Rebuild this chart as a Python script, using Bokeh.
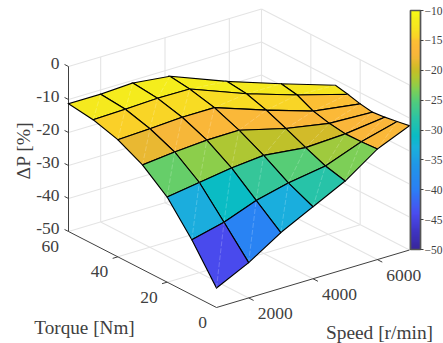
from bokeh.plotting import figure
from bokeh.models import Range1d, ColumnDataSource, ColorBar, LinearColorMapper, FixedTicker
from bokeh.core.properties import value
from bokeh.embed import file_html
from bokeh.resources import INLINE
import numpy as np
import math

# ---- data -----------------------------------------------------------
speed = [1000, 2000, 3000, 4000, 5000, 6000, 7000]
torque_c0 = [0, 10, 20, 30, 40, 50, 60]
torque_c1 = [0, 10, 20, 30, 40, 50, 60]
torque_c2 = [0, 10, 20, 30, 40, 50, 60]
torque_c3 = [0, 10, 20, 30, 40, 50, 58]
torque_c4 = [0, 8, 16, 24, 32, 40, 48]
torque_c5 = [0, 6.5, 13, 19.5, 26, 32.5, 39]
torque_c6 = [0, 5, 10, 15, 20, 25, 30]
dp_c0 = [-44.1, -33.3, -24.2, -18.3, -14.5, -12.3, -11.3]
dp_c1 = [-39.3, -30.9, -22.7, -17.3, -14.1, -12.0, -11.3]
dp_c2 = [-33.1, -27.2, -21.2, -16.6, -13.5, -11.6, -10.8]
dp_c3 = [-28.2, -24.8, -20.3, -16.5, -13.5, -11.7, -10.9]
dp_c4 = [-23.3, -21.8, -19.3, -16.6, -14.1, -12.2, -11.5]
dp_c5 = [-16.5, -16.8, -16.9, -16.2, -15.0, -12.6, -11.7]
dp_c6 = [-12.3, -13.0, -13.6, -14.0, -13.4, -12.4, -11.6]
torques = [torque_c0, torque_c1, torque_c2, torque_c3, torque_c4, torque_c5, torque_c6]
dps = [dp_c0, dp_c1, dp_c2, dp_c3, dp_c4, dp_c5, dp_c6]

speed_ticks = [2000, 4000, 6000]
torque_ticks = [0, 20, 40, 60]
dp_ticks = [-50, -40, -30, -20, -10, 0]
cbar_ticks = [-50, -45, -40, -35, -30, -25, -20, -15, -10]
cmap_values = [-50, -47, -44, -40, -36, -33, -31, -28, -25, -23, -21, -20, -19, -18, -17, -15, -14.5, -12.3, -11.3, -10]
cmap_colors = ["#38269a", "#3f35c4", "#4a4cf0", "#2b7ff5", "#2096e8", "#1ab0dc", "#0abcc4", "#2bc4a4",
               "#55cd78", "#85cf50", "#b5c62e", "#c4bf28", "#dcb92a", "#efb836", "#fab63a", "#fcbf34",
               "#fad227", "#f5ea1e", "#f5ef1b", "#f9fb15"]

FG = "#404040"
GRID = "#e4e4e4"
SERIF = value("Liberation Serif")
W, H = 443, 343


# ---- orthographic projection, to page pixels inside the figure --------
def proj(s, t, z):
    x = 216 + (s - 1000) * 193 / 6000 - t * 148 / 60
    y = 307 - (s - 1000) * 57.5 / 6000 - t * 76 / 60 - (z + 50) * 3.3
    return x, y


def segs(pairs):
    xs, ys = [], []
    for a, b in pairs:
        pa, pb = proj(*a), proj(*b)
        xs.append([pa[0], pb[0]])
        ys.append([pa[1], pb[1]])
    return xs, ys


# palette
rgb = np.array([[int(c[i:i + 2], 16) for i in (1, 3, 5)] for c in cmap_colors], float)
lev = np.linspace(-50, -10, 256)
palette = ["#%02x%02x%02x" % tuple(int(round(np.interp(v, cmap_values, rgb[:, k]))) for k in range(3)) for v in lev]


def color_of(v):
    return palette[int(np.clip((v + 50) / 40 * 255, 0, 255))]


p = figure(width=W, height=H, output_backend="svg", toolbar_location=None,
           x_range=Range1d(0, W), y_range=Range1d(H, 0), min_border=0,
           background_fill_color="white", border_fill_color="white")
p.xaxis.visible = False
p.yaxis.visible = False
p.grid.visible = False
p.outline_line_color = None

# ---- grid on floor and walls ------------------------------------------
S0, S1, T0, T1, Z0, Z1 = 1000, 7000, 0, 60, -50, 0
g = []
for s in speed_ticks:
    g.append(((s, T0, Z0), (s, T1, Z0)))
    g.append(((s, T1, Z0), (s, T1, Z1)))
for t in torque_ticks[1:3]:
    g.append(((S0, t, Z0), (S1, t, Z0)))
for t in torque_ticks:
    g.append(((S1, t, Z0), (S1, t, Z1)))
for z in dp_ticks:
    g.append(((S0, T1, z), (S1, T1, z)))
    g.append(((S1, T1, z), (S1, T0, z)))
xs, ys = segs(g)
p.multi_line(xs, ys, line_color=GRID, line_width=1.1)

# ---- box axes ---------------------------------------------------------
a = [((S0, T1, Z0), (S0, T1, Z1)), ((S0, T1, Z0), (S0, T0, Z0)), ((S0, T0, Z0), (S1, T0, Z0))]
for z in dp_ticks:
    a.append(((S0, T1, z), (S0, T1 + 1.6, z)))
for t in torque_ticks[1:3]:
    a.append(((S0, t, Z0), (S0 - 160, t, Z0)))
for s in speed_ticks:
    a.append(((s, T0, Z0), (s, T0 - 2, Z0)))
xs, ys = segs(a)
p.multi_line(xs, ys, line_color=FG, line_width=1.0)

# ---- surface faces, back to front -------------------------------------
fx, fy, fc, dx, dy = [], [], [], [], []
for c in range(5, -1, -1):
    for r in range(5, -1, -1):
        corners = [(c, r), (c + 1, r), (c + 1, r + 1), (c, r + 1)]
        pts = [proj(speed[i], torques[i][j], dps[i][j]) for i, j in corners]
        fx.append([q[0] for q in pts])
        fy.append([q[1] for q in pts])
        fc.append(color_of(dps[c][r]))
        dx.append([pts[0][0], pts[2][0]])
        dy.append([pts[0][1], pts[2][1]])
order = list(range(len(fx)))
for k in order:
    p.patch(fx[k], fy[k], fill_color=fc[k], line_color="black", line_width=1.15, line_join="miter")
    p.line(dx[k], dy[k], line_color="white", line_alpha=0.3, line_width=0.7, line_dash="5 2")

# ---- tick labels and axis titles --------------------------------------
TF = "17.5px"


def labels(x, y, txt, align="center", size=TF, angle=0.0):
    src = ColumnDataSource(dict(x=x, y=y, t=txt))
    p.text("x", "y", text="t", source=src, text_font=SERIF, text_font_size=value(size),
           text_color=FG, text_align=align, text_baseline="middle", angle=angle)


zp = [proj(S0, T1, z) for z in dp_ticks]
labels([q[0] - 9 for q in zp], [q[1] - 3 for q in zp], [str(z) for z in dp_ticks], "right")
tp = [proj(S0, t, Z0) for t in torque_ticks]
labels([q[0] - 9.5 for q in tp], [q[1] + 15 for q in tp], [str(t) for t in torque_ticks], "right")
sp = [proj(s, T0, Z0) for s in speed_ticks]
labels([q[0] + 26.5 for q in sp], [q[1] + 16 for q in sp], [str(s) for s in speed_ticks], "center")
labels([84], [327], ["Torque [Nm]"], size="19.2px")
labels([379], [332], ["Speed [r/min]"], size="19.4px")
labels([23], [150], ["\u0394P [%]"], size="19.6px", angle=math.pi / 2)

# ---- colour bar -------------------------------------------------------
mapper = LinearColorMapper(palette=palette, low=-50, high=-10)
cb = ColorBar(color_mapper=mapper, ticker=FixedTicker(ticks=cbar_ticks),
              location=(410, H - 249), width=10, height=239, padding=0, margin=0,
              background_fill_alpha=0, bar_line_color="#555555", bar_line_width=1.7,
              major_tick_in=0, major_tick_out=3, major_tick_line_color=FG, major_tick_line_width=1,
              minor_tick_line_color=None, label_standoff=1,
              major_label_text_font="Liberation Serif", major_label_text_font_size="11.5px",
              major_label_text_color=FG)
p.add_layout(cb)

open("out.html", "w").write(file_html(p, INLINE))
